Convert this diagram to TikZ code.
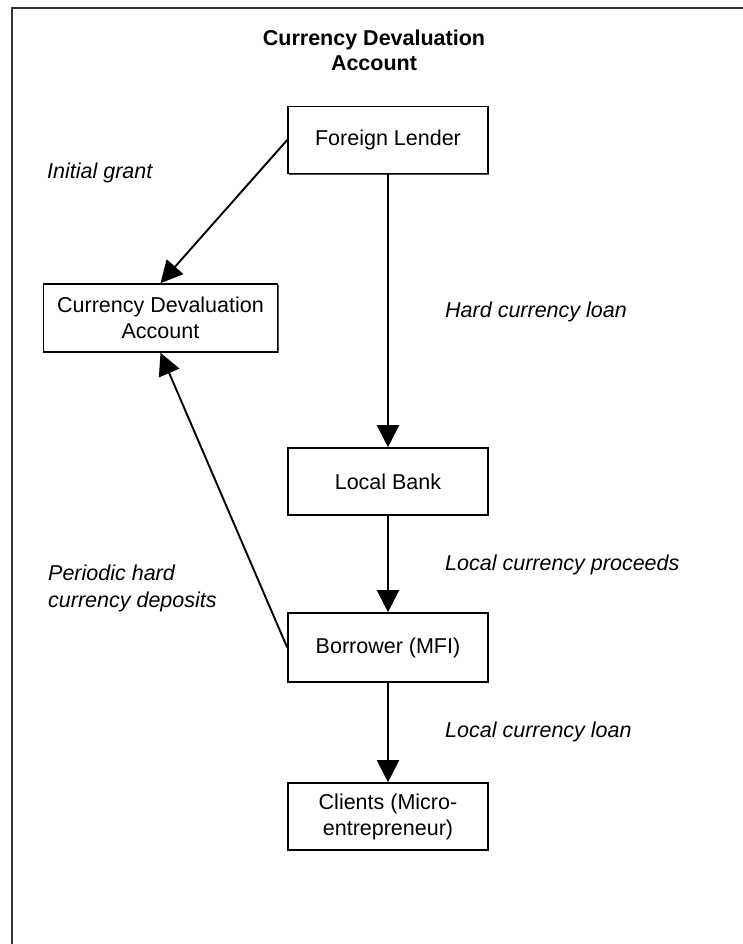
\documentclass[tikz,border=0pt]{standalone}
\usepackage{fontspec}
\setmainfont{Liberation Sans}
\usetikzlibrary{arrows.meta,shadows}

\begin{document}
\begin{tikzpicture}[x=1pt, y=-1pt,
	every node/.style={font=\fontsize{21.5}{26}\selectfont},
	box/.style={draw, fill=white, line width=1.6pt, minimum width=200pt, minimum height=67pt, align=center, inner sep=2pt,
		drop shadow={shadow xshift=1.2pt, shadow yshift=-1.2pt, fill=black!70, opacity=1}},
	note/.style={anchor=west, align=left, inner sep=0pt, font=\fontsize{21.5}{27}\selectfont\itshape},
	flow/.style={line width=1.9pt, -{Triangle[width=22pt, length=22pt]}}]
	\useasboundingbox (0,0) rectangle (743,944);
	\draw[line width=1.5pt, black!80] (12,960) |- (760,8);
	\node[align=center, font=\fontsize{21.5}{25}\selectfont\bfseries] (title) at (374,50) {Currency Devaluation\\Account};
	\node[box] (fl)  at (388,140)   {Foreign Lender};
	\node[box, minimum width=234pt, minimum height=68pt] (cda) at (160.5,318) {Currency Devaluation\\Account};
	\node[box] (lb)  at (388,481.5) {Local Bank};
	\node[box, minimum height=69pt] (mfi) at (388,647.5) {Borrower (MFI)};
	\node[box] (cli) at (388,816.5) {Clients (Micro-\\entrepreneur)};
	\node[note] (n1) at (47,173)  {Initial grant};
	\node[note] (n2) at (445,312) {Hard currency loan};
	\node[note] (n3) at (445,565) {Local currency proceeds};
	\node[note] (n4) at (48,588)  {Periodic hard\\currency deposits};
	\node[note] (n5) at (445,732) {Local currency loan};
	\foreach \from/\to in {
		fl.west/cda.north, fl/lb,
		lb/mfi, mfi/cli,
		mfi.west/cda.south}
	\draw[flow] (\from) -- (\to);
\end{tikzpicture}
\end{document}
